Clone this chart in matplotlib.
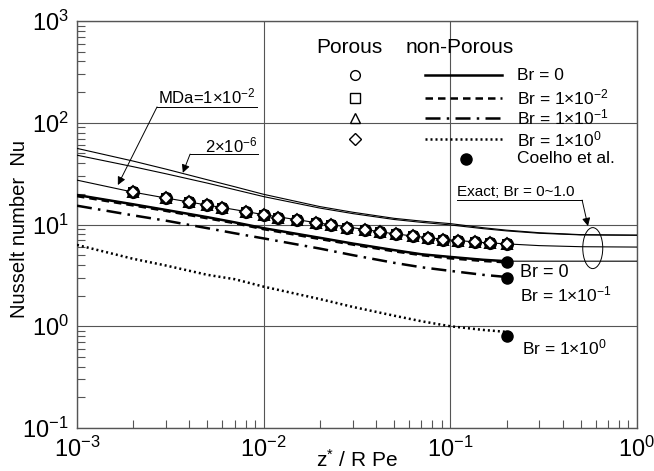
import matplotlib
matplotlib.use("Agg")
import matplotlib.pyplot as plt
from matplotlib.patches import Ellipse, Rectangle
from matplotlib.ticker import LogLocator, LogFormatterMathtext, NullFormatter

plt.rcParams['font.family'] = ['Liberation Sans', 'DejaVu Sans']
plt.rcParams['mathtext.fontset'] = 'custom'
plt.rcParams['mathtext.rm'] = 'Liberation Sans'
plt.rcParams['mathtext.it'] = 'Liberation Sans:italic'
plt.rcParams['mathtext.default'] = 'regular'

# non-porous curves (thick), z*/R Pe from 1e-3 to 0.2
z_np = [0.001, 0.002, 0.003, 0.005, 0.007, 0.01, 0.02, 0.03, 0.05, 0.07, 0.1, 0.15, 0.2]
nu_br0 = [19.5, 15.8, 13.9, 11.8, 10.5, 9.2, 7.4, 6.5, 5.6, 5.1, 4.8, 4.5, 4.36]
nu_br001 = [19.0, 15.4, 13.6, 11.5, 10.3, 9.0, 7.2, 6.35, 5.45, 5.0, 4.65, 4.38, 4.25]
nu_br01 = [15.3, 12.3, 10.9, 9.2, 8.2, 7.3, 5.8, 5.0, 4.2, 3.8, 3.5, 3.2, 3.05]
nu_br1 = [6.3, 4.6, 3.95, 3.2, 2.9, 2.45, 1.85, 1.55, 1.27, 1.12, 1.0, 0.92, 0.88]

# exact solutions (thin lines), 1e-3 to 1
z_ex = [0.001, 0.002, 0.003, 0.005, 0.007, 0.01, 0.02, 0.03, 0.05, 0.07, 0.1, 0.15, 0.2, 0.3, 0.5, 1.0]
nu_ex_a = [56, 42, 35, 27.5, 23.5, 19.8, 15.0, 13.2, 11.5, 10.8, 10.2, 9.3, 8.8, 8.3, 7.95, 7.85]
nu_ex_b = [48, 37, 31.5, 25.5, 22.0, 18.8, 14.5, 12.8, 11.2, 10.5, 9.9, 9.1, 8.65, 8.2, 7.9, 7.85]
nu_ex_c = [27.3, 20.8, 18.2, 15.5, 14.0, 12.5, 10.3, 9.3, 8.1, 7.55, 7.05, 6.65, 6.45, 6.2, 6.05, 6.0]
nu_ex_d = [19.5, 15.8, 13.9, 11.8, 10.5, 9.2, 7.4, 6.5, 5.6, 5.1, 4.8, 4.5, 4.36, 4.36, 4.36, 4.36]

# porous results (symbols)
z_por = [0.002, 0.003, 0.004, 0.005, 0.006, 0.008, 0.01, 0.012, 0.015, 0.019, 0.023,
         0.028, 0.035, 0.042, 0.051, 0.063, 0.076, 0.091, 0.11, 0.135, 0.163, 0.2]
nu_por = [20.8, 18.2, 16.6, 15.5, 14.6, 13.4, 12.5, 11.7, 11.0, 10.3, 9.8,
          9.3, 8.8, 8.4, 8.0, 7.7, 7.4, 7.1, 6.9, 6.7, 6.55, 6.45]

# Coelho et al.
z_coelho = [0.2, 0.2, 0.2]
nu_coelho = [4.3, 3.0, 0.8]

fig = plt.figure(figsize=(6.54, 4.71), dpi=100)
ax = fig.add_axes([0.1177, 0.0913, 0.8563, 0.8641])
ax.set_xscale('log')
ax.set_yscale('log')
ax.set_xlim(1e-3, 1)
ax.set_ylim(1e-1, 1e3)

gray = '#555555'
ax.grid(True, which='major', color=gray, lw=0.8, zorder=0)
for s in ax.spines.values():
    s.set_color(gray)
    s.set_linewidth(1.0)
ax.xaxis.set_major_locator(LogLocator(base=10, numticks=10))
ax.yaxis.set_major_locator(LogLocator(base=10, numticks=10))
ax.xaxis.set_minor_locator(LogLocator(base=10, subs=range(2, 10), numticks=20))
ax.yaxis.set_minor_locator(LogLocator(base=10, subs=range(2, 10), numticks=20))
ax.xaxis.set_major_formatter(LogFormatterMathtext())
ax.yaxis.set_major_formatter(LogFormatterMathtext())
ax.xaxis.set_minor_formatter(NullFormatter())
ax.yaxis.set_minor_formatter(NullFormatter())
ax.tick_params(which='both', direction='in', color=gray, top=False, right=False)
ax.tick_params(which='major', length=0, labelsize=17, pad=6)
ax.tick_params(which='minor', length=6, width=0.8)

# exact thin lines
ax.plot(z_ex, nu_ex_a, color='black', lw=0.8, zorder=3)
ax.plot(z_ex, nu_ex_b, color='black', lw=0.8, zorder=3)
ax.plot(z_ex, nu_ex_c, color='black', lw=0.8, zorder=3)
ax.plot(z_ex, nu_ex_d, color='black', lw=0.8, zorder=3)

# non-porous
ax.plot(z_np, nu_br0, color='black', lw=1.8, ls='-', zorder=4)
ax.plot(z_np, nu_br001, color='black', lw=1.8, ls=(0, (3, 2)), zorder=4)
ax.plot(z_np, nu_br01, color='black', lw=1.8, ls=(0, (6, 2.5, 1, 2.5)), zorder=4)
ax.plot(z_np, nu_br1, color='black', lw=1.8, ls=(0, (0.8, 1.2)), zorder=4)

# porous symbols
por_sizes = {'o': 8, 's': 6, '^': 7.5, 'D': 6.5}
for m in ['o', 's', '^', 'D']:
    ax.plot(z_por, nu_por, ls='none', marker=m, ms=por_sizes[m], mfc='white',
            mec='black', mew=1.4, zorder=5)

ax.plot(z_coelho, nu_coelho, ls='none', marker='o', ms=8, color='black', zorder=6)

ax.set_xlabel('z$^{*}$ / R Pe', fontsize=15)
ax.xaxis.set_label_coords(0.5, -0.052)
ax.set_ylabel('Nusselt number  Nu', fontsize=14.5, va='center')
ax.yaxis.set_label_coords(-0.103, 0.49)

# legend box
tr = ax.transAxes
ax.add_patch(Rectangle((0.416, 0.617), 0.561, 0.354, transform=tr, facecolor='white',
                       edgecolor='none', zorder=1))
ax.text(0.486, 0.934, 'Porous', transform=tr, fontsize=15, ha='center', va='center', zorder=7)
ax.text(0.684, 0.934, 'non-Porous', transform=tr, fontsize=15, ha='center', va='center', zorder=7)
leg_y = [0.867, 0.811, 0.762, 0.710]
leg_marks = ['o', 's', '^', 'D']
leg_ls = ['-', (0, (3, 2)), (0, (6, 2.5, 1, 2.5)), (0, (0.8, 1.2))]
leg_txt = ['Br = 0', 'Br = 1$\\times$10$^{-2}$', 'Br = 1$\\times$10$^{-1}$', 'Br = 1$\\times$10$^{0}$']
for yy, mk, ls, t in zip(leg_y, leg_marks, leg_ls, leg_txt):
    ax.plot([0.496], [yy], transform=tr, marker=mk, ms=7 if mk != 'D' else 6, mfc='white',
            mec='black', mew=1.0, ls='none', clip_on=False, zorder=7)
    ax.plot([0.621, 0.759], [yy, yy], transform=tr, color='black', lw=1.8, ls=ls, zorder=7)
    ax.text(0.786, yy, t, transform=tr, fontsize=12.5, ha='left', va='center', zorder=7)
ax.plot([0.695], [0.661], transform=tr, marker='o', ms=8, color='black', ls='none', zorder=7)
ax.text(0.786, 0.661, 'Coelho et al.', transform=tr, fontsize=12.5, ha='left', va='center', zorder=7)

# annotations
arrow = dict(arrowstyle='-|>', color='black', lw=0.7, mutation_scale=12, shrinkA=0, shrinkB=0)
ax.text(0.232, 0.815, 'MDa=1$\\times$10$^{-2}$', transform=tr, fontsize=12, ha='center', va='center')
ax.plot([0.143, 0.321], [0.789, 0.789], transform=tr, color='black', lw=0.7)
ax.annotate('', xy=(0.073, 0.597), xytext=(0.143, 0.789), xycoords=tr, textcoords=tr, arrowprops=arrow)

ax.text(0.275, 0.695, '2$\\times$10$^{-6}$', transform=tr, fontsize=12, ha='center', va='center')
ax.plot([0.202, 0.323], [0.673, 0.673], transform=tr, color='black', lw=0.7)
ax.annotate('', xy=(0.189, 0.627), xytext=(0.202, 0.673), xycoords=tr, textcoords=tr, arrowprops=arrow)

ax.text(0.784, 0.579, 'Exact; Br = 0~1.0', transform=tr, fontsize=11, ha='center', va='center')
ax.plot([0.679, 0.902], [0.560, 0.560], transform=tr, color='black', lw=0.7)
ax.annotate('', xy=(0.9125, 0.496), xytext=(0.902, 0.560), xycoords=tr, textcoords=tr, arrowprops=arrow)
ax.add_patch(Ellipse((0.921, 0.442), 0.0357, 0.1007, transform=tr, fill=False,
                     edgecolor='black', lw=0.7, zorder=6))

ax.text(0.791, 0.381, 'Br = 0', transform=tr, fontsize=13, ha='left', va='center')
ax.text(0.791, 0.327, 'Br = 1$\\times$10$^{-1}$', transform=tr, fontsize=12.5, ha='left', va='center')
ax.text(0.795, 0.199, 'Br = 1$\\times$10$^{0}$', transform=tr, fontsize=12.5, ha='left', va='center')

fig.savefig('out.png', dpi=100)
